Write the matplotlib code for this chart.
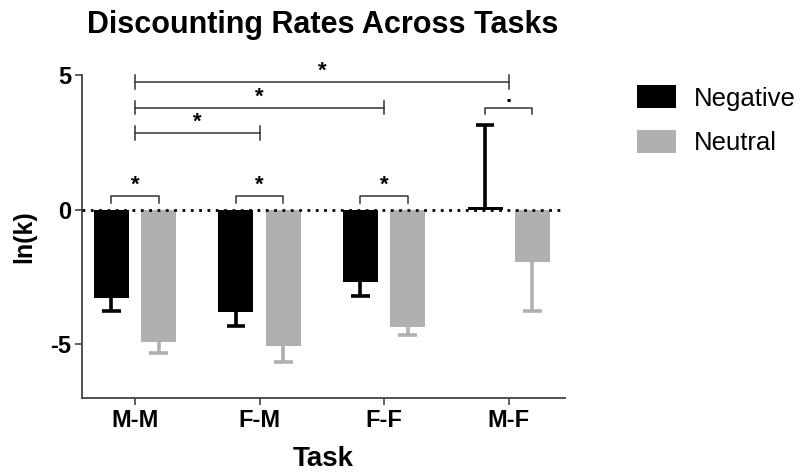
import numpy as np
import matplotlib.pyplot as plt

plt.rcParams['font.family'] = ['Liberation Sans', 'DejaVu Sans']

# mean ln(k) per task and condition, with standard errors
tasks = ['M-M', 'F-M', 'F-F', 'M-F']
negative = [-3.3, -3.82, -2.7, 0.1]
negative_se = [0.47, 0.5, 0.52, 3.05]
neutral = [-4.91, -5.08, -4.36, -1.95]
neutral_se = [0.42, 0.58, 0.29, 1.82]

black = '#000000'
grey = '#b0b0b0'

fig = plt.figure(figsize=(8, 4.74), dpi=100)
ax = fig.add_axes([0.1025, 0.160, 0.6035, 0.682])

x = np.arange(len(tasks))
off = 0.19
w = 0.28
cap = 0.075


def one_sided_err(xs, vals, se, color):
    # error bar drawn only on the side away from zero, cap at the far end
    vals = np.array(vals)
    se = np.array(se)
    ends = np.where(vals < 0, vals - se, vals + se)
    ax.vlines(xs, vals, ends, color=color, lw=2.6, zorder=3)
    ax.hlines(ends, xs - cap, xs + cap, color=color, lw=2.6, zorder=3)


ax.bar(x - off, negative, w, color=black, zorder=2, label='Negative')
ax.bar(x + off, neutral, w, color=grey, zorder=2, label='Neutral')
one_sided_err(x - off, negative, negative_se, black)
one_sided_err(x + off, neutral, neutral_se, grey)

# dotted zero line
ax.axhline(0, color='black', lw=2, ls=(0, (1, 2)), zorder=4)

ax.set_xlim(-0.425, 3.45)
ax.set_ylim(-7, 5)
ax.set_yticks([-5, 0, 5])
ax.set_yticklabels(['-5', '0', '5'])
ax.set_xticks(x)
ax.set_xticklabels(tasks)
for lab in ax.get_xticklabels() + ax.get_yticklabels():
    lab.set_fontweight('bold')
    lab.set_fontsize(17)
ax.tick_params(direction='out', length=5, width=1.2, color='#444444', pad=3)

for s in ['top', 'right']:
    ax.spines[s].set_visible(False)
for s in ['left', 'bottom']:
    ax.spines[s].set_linewidth(1.3)
    ax.spines[s].set_color('#444444')

ax.set_ylabel('ln(k)', fontsize=18, fontweight='bold', labelpad=10)
ax.set_xlabel('Task', fontsize=20, fontweight='bold', labelpad=10)
fig.text(0.403, 0.948, 'Discounting Rates Across Tasks', ha='center', va='center',
         fontsize=22, fontweight='bold')


def pair_bracket(x0, x1, y, mark, h=0.25):
    ax.plot([x0, x0, x1, x1], [y - h, y, y, y - h], color='#333333', lw=1.1, clip_on=False)
    ax.text((x0 + x1) / 2, y + 0.02, mark, ha='center', va='bottom', fontsize=16,
            fontweight='bold')


def span_bracket(x0, x1, y, mark, h=0.25):
    ax.plot([x0, x1], [y, y], color='#333333', lw=1.1, clip_on=False)
    for xx in (x0, x1):
        ax.plot([xx, xx], [y - h, y + h], color='#333333', lw=1.1, clip_on=False)
    ax.text((x0 + x1) / 2, y + 0.02, mark, ha='center', va='bottom', fontsize=16,
            fontweight='bold')


for i in range(3):
    pair_bracket(x[i] - off, x[i] + off, 0.5, '*')
pair_bracket(x[3] - off, x[3] + off, 3.78, '.')
span_bracket(0, 1, 2.85, '*')
span_bracket(0, 2, 3.78, '*')
span_bracket(0, 3, 4.74, '*')

handles, labels = ax.get_legend_handles_labels()
fig.legend(handles, labels, loc='upper left', bbox_to_anchor=(0.796, 0.82),
           frameon=False, fontsize=18.5, handlelength=1.52, handleheight=1.0,
           labelspacing=0.75, handletextpad=0.7, borderpad=0, borderaxespad=0)

fig.savefig('out.png', dpi=100)
